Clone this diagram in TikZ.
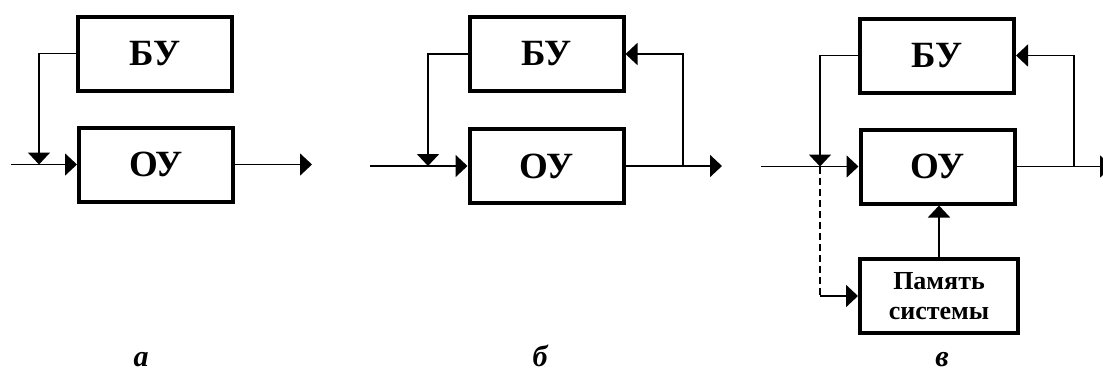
\documentclass[tikz,border=0pt]{standalone}
\usepackage{fontspec}
\setmainfont{Liberation Serif}
\usetikzlibrary{arrows.meta}
\begin{document}
\begin{tikzpicture}[x=1pt,y=-1pt,
  blk/.style={draw,line width=4pt,minimum width=154pt,minimum height=74pt,inner sep=0pt,
    font=\fontsize{37}{40}\selectfont\bfseries},
  memblk/.style={blk,minimum width=158pt,align=center,font=\fontsize{26}{30}\selectfont\bfseries},
  ln/.style={line width=1.8pt},
  arr/.style={ln,-{Triangle[length=12pt,width=22pt]}},
  dsh/.style={ln,dash pattern=on 7pt off 4pt},
  lbl/.style={font=\fontsize{30}{32}\selectfont\bfseries\itshape,anchor=base,inner sep=0pt}]
\useasboundingbox (0,0) rectangle (1103,375);

% ---------- a ----------
\node[blk] (bua) at (155,53.5) {БУ};
\node[blk] (oua) at (156,164.5) {ОУ};
\coordinate (ina) at (11,164.5);
\coordinate (ja) at (39,164.5);
\coordinate (outa) at (312,164.5);
\draw[arr] (ina) -- (oua.west);
\draw[arr] (bua.west) -| (ja);
\draw[arr] (oua.east) -- (outa);
\node[lbl] (la) at (141,366) {а};

% ---------- б ----------
\node[blk] (bub) at (546.5,54) {БУ};
\node[blk] (oub) at (546.5,166) {ОУ};
\coordinate (inb) at (370,166);
\coordinate (jb) at (428,166);
\coordinate (fb) at (683,166);
\coordinate (outb) at (722,166);
\draw[arr] (inb) -- (oub.west);
\draw[arr] (bub.west) -| (jb);
\draw[arr] (oub.east) -- (outb);
\draw[arr] (fb) |- (bub.east);
\node[lbl] (lb) at (540,366) {б};

% ---------- в ----------
\node[blk] (buc) at (937,55.5) {БУ};
\node[blk] (ouc) at (937.5,166.5) {ОУ};
\node[memblk] (mem) at (939,296) {Память\\системы};
\coordinate (inc) at (761,166.5);
\coordinate (jc) at (820,166.5);
\coordinate (kc) at (820,296);
\coordinate (fc) at (1074,166.5);
\coordinate (outc) at (1112,166.5);
\draw[arr] (inc) -- (ouc.west);
\draw[arr] (buc.west) -| (jc);
\draw[dsh] (jc) -- (kc);
\draw[arr] (kc) -- (mem.west);
\draw[arr] (mem.north) -- (mem.north |- ouc.south);
\draw[arr] (ouc.east) -- (outc);
\draw[arr] (fc) |- (buc.east);
\node[lbl] (lc) at (942,366) {в};
\end{tikzpicture}
\end{document}
